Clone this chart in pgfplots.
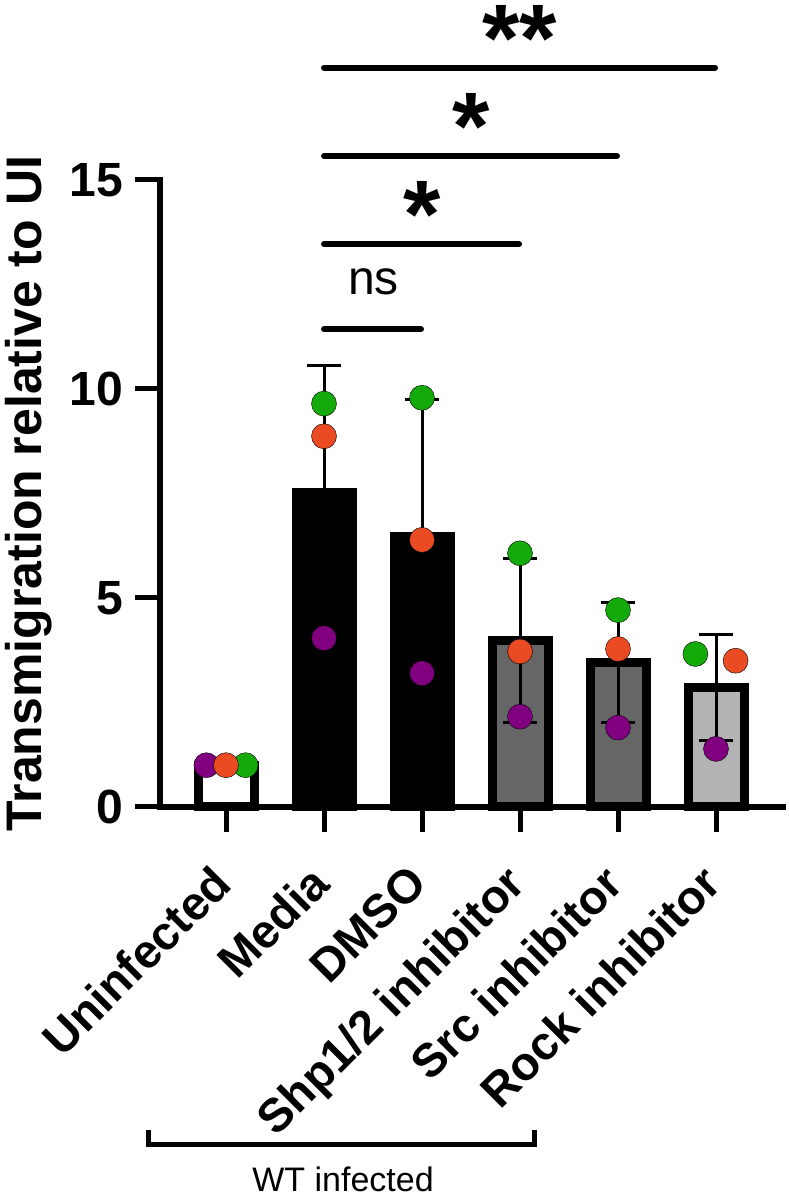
\documentclass[border=0pt]{standalone}
\usepackage{pgfplots}
\usepackage{pgfplotstable}
\pgfplotsset{compat=1.18}
\usepackage{fontspec}
\setmainfont{Liberation Sans}
\definecolor{dotgreen}{RGB}{20,170,10}
\definecolor{dotorange}{RGB}{235,75,35}
\definecolor{dotpurple}{RGB}{128,0,128}
\definecolor{darkbar}{RGB}{102,102,102}
\definecolor{lightbar}{RGB}{179,179,179}

\pgfplotstableread{
x m sd
1 7.52 3.04
2 6.46 3.30
3 3.98 1.97
4 3.46 1.43
5 2.85 1.27
}\errdata

\begin{document}
\begin{tikzpicture}
\path[use as bounding box] (0pt,0pt) rectangle (788pt,1199pt);
\begin{axis}[
  at={(160pt,392pt)}, anchor=south west,
  scale only axis, width=623pt, height=627pt,
  xmin=-0.6735, xmax=5.6837, ymin=0, ymax=15,
  clip=false,
  axis lines=left,
  axis line style={-, line width=6pt, line cap=rect},
  tick align=outside,
  major tick length=25pt,
  tick style={line width=5pt, black},
  xtick={0,1,2,3,4,5},
  xticklabels={Uninfected, Media, DMSO, Shp1/2 inhibitor, Src inhibitor, Rock inhibitor},
  ytick={0,5,10,15},
  /pgf/number format/assume math mode=true,
  xticklabel style={rotate=45, anchor=north east, inner sep=0pt, xshift=-33pt, yshift=-10pt, font=\fontsize{47pt}{55pt}\selectfont\bfseries},
  yticklabel style={inner sep=0pt, xshift=-12pt, font=\fontsize{48pt}{56pt}\selectfont\bfseries},
  ylabel={Transmigration relative to UI},
  every axis y label/.style={at={(axis description cs:-0.1894,0.5)}, rotate=90, anchor=base, font=\fontsize{50pt}{60pt}\selectfont\bfseries},
]
% bars
\addplot[ybar, bar width=56pt, bar shift=0pt, fill=white, draw=black, line width=9pt] coordinates {(0,1.00)};
\addplot[ybar, bar width=56pt, bar shift=0pt, fill=black, draw=black, line width=9pt] coordinates {(1,7.52) (2,6.46)};
\addplot[ybar, bar width=56pt, bar shift=0pt, fill=darkbar, draw=black, line width=9pt] coordinates {(3,3.98) (4,3.46)};
\addplot[ybar, bar width=56pt, bar shift=0pt, fill=lightbar, draw=black, line width=9pt] coordinates {(5,2.85)};
% error bars (mean +/- SD)
\addplot[draw=none, mark=none,
  error bars/.cd, y dir=both, y explicit,
  error bar style={draw=black, line width=3pt},
  error mark options={draw=black, rotate=90, mark size=17pt, line width=3pt}]
  table[x=x, y=m, y error=sd] {\errdata};
% individual donors
\addplot[only marks, mark=*, mark size=12.5pt, mark options={draw=none, fill=dotpurple}]
  coordinates {(-0.2,1.00) (1,4.04) (2,3.20) (3,2.16) (4,1.90) (5,1.39)};
\addplot[only marks, mark=*, mark size=12.5pt, mark options={draw=none, fill=dotgreen}]
  coordinates {(0.2,1.00) (1,9.65) (2,9.79) (3,6.07) (4,4.71) (4.79,3.66)};
\addplot[only marks, mark=*, mark size=12.5pt, mark options={draw=none, fill=dotorange}]
  coordinates {(0,1.00) (1,8.87) (2,6.39) (3,3.72) (4,3.78) (5.2,3.50)};
% significance brackets
\draw[line width=6pt, line cap=round] (axis cs:1,17.69) -- (axis cs:4.99,17.69);
\draw[line width=6pt, line cap=round] (axis cs:1,15.57) -- (axis cs:3.99,15.57);
\draw[line width=6pt, line cap=round] (axis cs:1,13.46) -- (axis cs:2.99,13.46);
\draw[line width=6pt, line cap=round] (axis cs:1,11.43) -- (axis cs:1.99,11.43);
\node[font=\fontsize{96pt}{96pt}\selectfont\bfseries, anchor=base, inner sep=0pt, yshift=-4pt] at (axis cs:3,17.69) {**};
\node[font=\fontsize{96pt}{96pt}\selectfont\bfseries, anchor=base, inner sep=0pt, yshift=-3pt] at (axis cs:2.5,15.57) {*};
\node[font=\fontsize{96pt}{96pt}\selectfont\bfseries, anchor=base, inner sep=0pt, yshift=-3pt] at (axis cs:2,13.46) {*};
\node[font=\fontsize{48pt}{48pt}\selectfont, anchor=base, inner sep=0pt] at (axis cs:1.505,12.25) {ns};
% WT infected bracket
\draw[line width=5pt] (axis cs:-0.786,-7.73) -- (axis cs:-0.786,-8.086) -- (axis cs:3.150,-8.086) -- (axis cs:3.150,-7.73);
\node[font=\fontsize{34pt}{34pt}\selectfont, anchor=base, inner sep=0pt] at (axis cs:1.194,-9.203) {WT infected};
\end{axis}
\end{tikzpicture}
\end{document}
